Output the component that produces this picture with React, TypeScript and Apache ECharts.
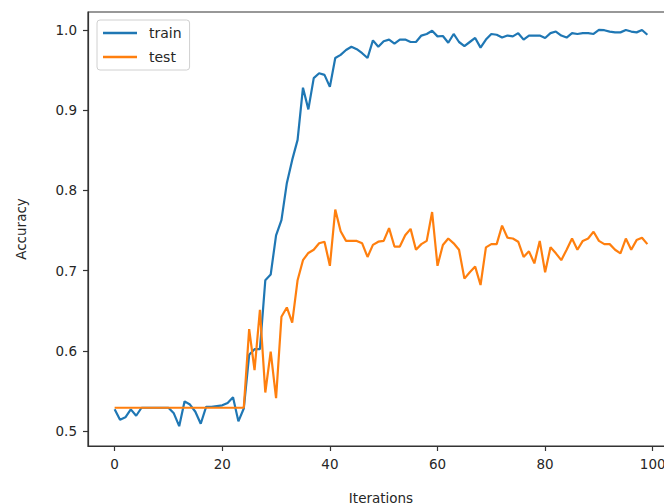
import React, { useEffect, useRef } from "react";
import * as echarts from "echarts";

const trainAcc: number[] = [
  0.527, 0.514, 0.517, 0.527, 0.519, 0.529, 0.529, 0.529, 0.529, 0.529,
  0.529, 0.522, 0.506, 0.537, 0.533, 0.524, 0.509, 0.530, 0.530, 0.531,
  0.532, 0.535, 0.542, 0.512, 0.528, 0.595, 0.602, 0.602, 0.688, 0.695,
  0.744, 0.763, 0.809, 0.838, 0.863, 0.928, 0.901, 0.940, 0.946, 0.944,
  0.929, 0.965, 0.969, 0.975, 0.979, 0.976, 0.971, 0.965, 0.987, 0.979,
  0.986, 0.988, 0.983, 0.988, 0.988, 0.985, 0.985, 0.993, 0.995, 0.999,
  0.992, 0.9925, 0.984, 0.995, 0.985, 0.980, 0.985, 0.990, 0.978, 0.988,
  0.995, 0.994, 0.9905, 0.993, 0.992, 0.996, 0.988, 0.993, 0.993, 0.993,
  0.990, 0.996, 0.998, 0.993, 0.9905, 0.996, 0.995, 0.996, 0.996, 0.995,
  1.0, 0.9997, 0.998, 0.997, 0.997, 1.0, 0.998, 0.997, 1.0, 0.994,
];

const testAcc: number[] = [
  0.529, 0.529, 0.529, 0.529, 0.529, 0.529, 0.529, 0.529, 0.529, 0.529,
  0.529, 0.529, 0.529, 0.529, 0.529, 0.529, 0.529, 0.529, 0.529, 0.529,
  0.529, 0.529, 0.529, 0.529, 0.529, 0.627, 0.576, 0.651, 0.548, 0.599,
  0.541, 0.6425, 0.654, 0.635, 0.688, 0.713, 0.722, 0.726, 0.734, 0.736,
  0.706, 0.776, 0.749, 0.737, 0.737, 0.737, 0.734, 0.717, 0.732, 0.736,
  0.737, 0.753, 0.730, 0.730, 0.744, 0.752, 0.726, 0.733, 0.737, 0.773,
  0.706, 0.732, 0.740, 0.734, 0.726, 0.690, 0.698, 0.705, 0.682, 0.729,
  0.733, 0.733, 0.756, 0.741, 0.740, 0.736, 0.717, 0.724, 0.709, 0.737,
  0.698, 0.729, 0.7215, 0.713, 0.726, 0.740, 0.726, 0.737, 0.740, 0.7485,
  0.737, 0.733, 0.733, 0.726, 0.7215, 0.740, 0.726, 0.738, 0.741, 0.733,
];

const iterations: number[] = trainAcc.map((_, i) => i);
const xTicks: number[] = [0, 20, 40, 60, 80, 100];
const yTicks: number[] = [0.5, 0.6, 0.7, 0.8, 0.9, 1.0];

const FONT = "DejaVu Sans";
const TEXT = "#262626";

export default function App() {
  const ref = useRef<HTMLDivElement>(null);

  useEffect(() => {
    document.body.style.margin = "0";
    if (!ref.current) return;
    const chart = echarts.init(ref.current, undefined, { renderer: "svg" });
    chart.setOption({
      animation: false,
      backgroundColor: "#ffffff",
      textStyle: { fontFamily: FONT },
      grid: {
        left: 88,
        top: 12,
        width: 586,
        height: 434,
        containLabel: false,
        outerBoundsMode: "none",
        show: true,
        borderColor: "#333333",
        borderWidth: 1.2,
        backgroundColor: "transparent",
      },
      legend: {
        left: 97,
        top: 20,
        orient: "vertical",
        icon: "rect",
        itemWidth: 34,
        itemHeight: 2.5,
        itemGap: 10,
        padding: [6, 8, 6, 6],
        borderColor: "#d0d0d0",
        borderWidth: 1,
        borderRadius: 3,
        backgroundColor: "rgba(255,255,255,0.8)",
        textStyle: {
          fontFamily: FONT,
          fontSize: 14,
          lineHeight: 14,
          color: TEXT,
          padding: [0, 0, 0, 7],
        },
        data: ["train", "test"],
      },
      xAxis: {
        type: "value",
        min: -4.95,
        max: 103.95,
        name: "Iterations",
        nameLocation: "middle",
        nameGap: 45,
        nameTextStyle: { fontFamily: FONT, fontSize: 13.5, color: TEXT },
        axisLine: { show: true, onZero: false, lineStyle: { color: "#333333", width: 1.2 } },
        axisTick: {
          show: true,
          length: 5,
          customValues: xTicks,
          lineStyle: { color: "#333333", width: 1.2 },
        },
        axisLabel: {
          customValues: xTicks,
          margin: 11,
          fontFamily: FONT,
          fontSize: 13.5,
          color: TEXT,
          hideOverlap: false,
        },
        splitLine: { show: false },
      },
      yAxis: {
        type: "value",
        min: 0.4813,
        max: 1.0224,
        name: "Accuracy",
        nameLocation: "middle",
        nameGap: 60,
        nameTextStyle: { fontFamily: FONT, fontSize: 13.5, color: TEXT },
        axisLine: { show: true, onZero: false, lineStyle: { color: "#333333", width: 1.2 } },
        axisTick: {
          show: true,
          length: 5,
          customValues: yTicks,
          lineStyle: { color: "#333333", width: 1.2 },
        },
        axisLabel: {
          customValues: yTicks,
          margin: 11,
          fontFamily: FONT,
          fontSize: 13.5,
          color: TEXT,
          formatter: (v: number) => v.toFixed(1),
        },
        splitLine: { show: false },
      },
      series: [
        {
          name: "train",
          type: "line",
          showSymbol: false,
          color: "#1f77b4",
          lineStyle: { width: 2.2, color: "#1f77b4" },
          data: iterations.map((x, i) => [x, trainAcc[i]]),
        },
        {
          name: "test",
          type: "line",
          showSymbol: false,
          color: "#ff7f0e",
          lineStyle: { width: 2.2, color: "#ff7f0e" },
          data: iterations.map((x, i) => [x, testAcc[i]]),
        },
      ],
    });
    return () => chart.dispose();
  }, []);

  return <div ref={ref} style={{ width: 664, height: 504 }} />;
}
